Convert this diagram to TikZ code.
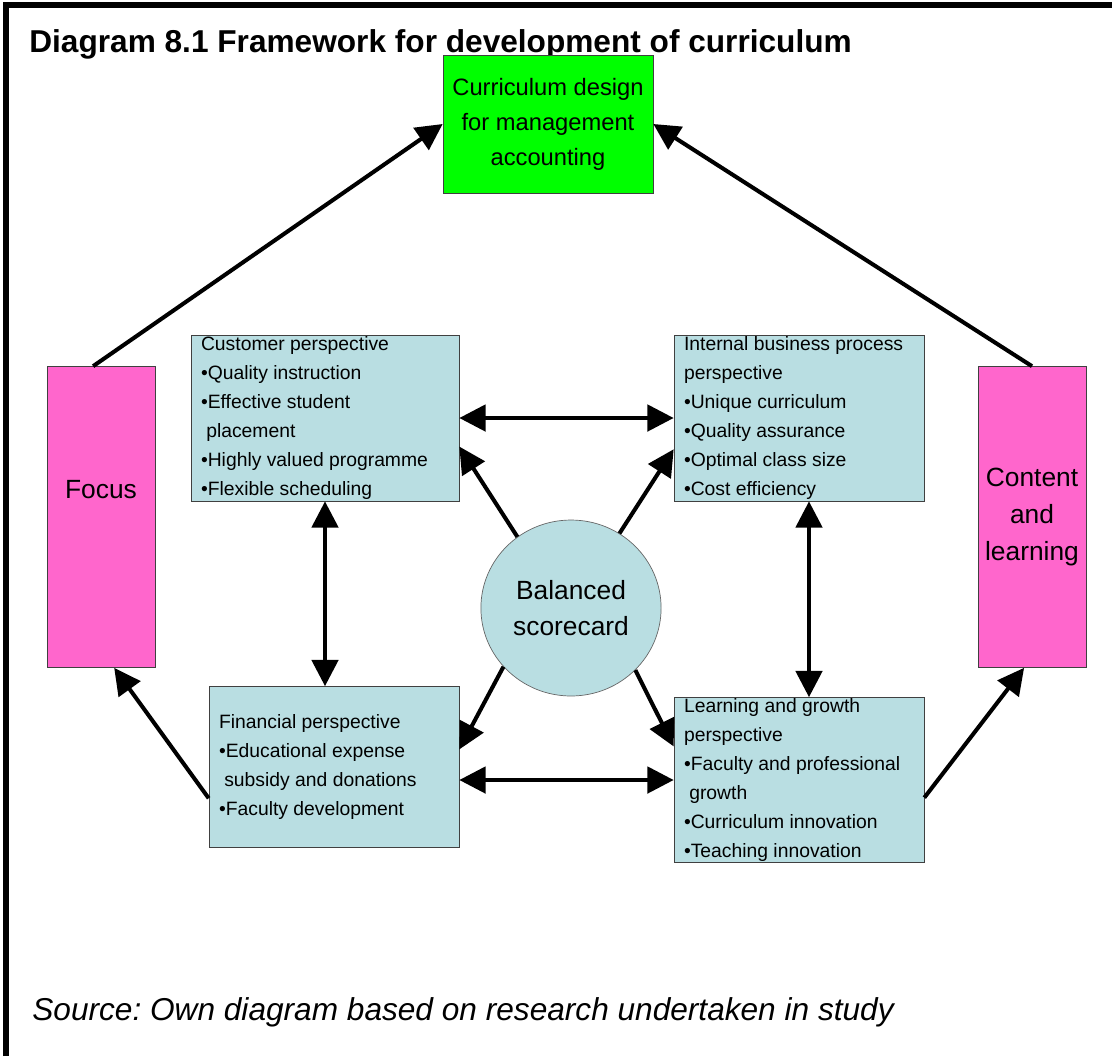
\documentclass[tikz,border=0pt]{standalone}
\usepackage{fontspec}
\setmainfont{Liberation Sans}
\usetikzlibrary{
    positioning,
    arrows.meta,
    shapes.geometric
}
\frenchspacing
\definecolor{verde}{RGB}{0,255,0}
\definecolor{rosa}{RGB}{255,102,204}
\definecolor{celeste}{RGB}{185,222,226}
\tikzset{
    >={Triangle[length=15pt,width=15pt]},
    flecha/.style={
        line width=2.3pt
    },
    principal/.style={
        draw=black!75,
        fill=verde,
        minimum width=4.2cm,
        minimum height=2.76cm,
        align=center,
        font=\fontsize{13.5}{20}\selectfont
    },
    lateral/.style={
        draw=black!75,
        fill=rosa,
        minimum width=2.16cm,
        minimum height=6.02cm,
        align=center,
        font=\fontsize{15}{21}\selectfont
    },
    caja/.style={
        draw=black!75,
        fill=celeste,
        inner xsep=0.2cm,
        inner ysep=0pt,
        text width=4.6cm,
        minimum height=3.3cm,
        align=flush left,
        font=\fontsize{11}{16.5}\selectfont
    }
}

\begin{document}
\begin{tikzpicture}[
    x=0.02cm,
    y=-0.02cm
]
    \useasboundingbox (0,0) rectangle (1112,1056);

    % Marco
    \draw[line width=3.4pt] (6,1056) -- (6,5) -- (1112,5);

    % Titulo y fuente
    \node[anchor=base west, inner sep=0pt, font=\bfseries\fontsize{18}{21}\selectfont]
        (tit) at (29,52) {Diagram 8.1 Framework for development of curriculum};
    \node[anchor=base west, inner sep=0pt, font=\itshape\fontsize{18}{21}\selectfont]
        (src) at (32,1020) {Source: Own diagram based on research undertaken in study};

    % Nodos
    \node[principal] (cur) at (548,124) {Curriculum design\\for management\\accounting};

    \node[lateral, label={[yshift=0.54cm, font=\fontsize{15}{21}\selectfont]center:Focus}]
        (foc) at (101,517) {};
    \node[lateral]   (con) at (1032,517) {Content\\and\\learning};

    \node[caja, text width=4.96cm, minimum height=3.32cm] (cus) at (325,418)
        {Customer perspective\\
         \textbullet Quality instruction\\
         \textbullet Effective student\\
         \hspace*{3pt}placement\\
         \textbullet Highly valued programme\\
         \textbullet Flexible scheduling};
    \node[caja, minimum height=3.32cm] (int) at (799,418)
        {Internal business process\\
         perspective\\
         \textbullet Unique curriculum\\
         \textbullet Quality assurance\\
         \textbullet Optimal class size\\
         \textbullet Cost efficiency};
    \node[caja, minimum height=3.22cm] (fin) at (334,767)
        {Financial perspective\\
         \textbullet Educational expense\\
         \hspace*{3pt}subsidy and donations\\
         \textbullet Faculty development};
    \node[caja] (lea) at (799,780)
        {Learning and growth\\
         perspective\\
         \textbullet Faculty and professional\\
         \hspace*{3pt}growth\\
         \textbullet Curriculum innovation\\
         \textbullet Teaching innovation};

    \node[ellipse, draw=black!60, fill=celeste, minimum width=3.44cm,
        minimum height=3.52cm, align=center, font=\fontsize{15}{20}\selectfont]
        (bsc) at (571,608) {Balanced\\scorecard};

    % Conectores
    \path[->, flecha]
        % hacia el diseno
        (foc.93)    edge (cur.west)
        (con.north) edge (cur.east)
        % hacia los laterales
        (fin.194)   edge (foc.275)
        (lea.-8)    edge (con.267)
        % desde el scorecard
        (bsc.127)   edge (cus.-12)
        (bsc.57)    edge (int.194)
        (bsc.221)   edge (fin.8)
        (bsc.-44)   edge (lea.165);

    \path[<->, flecha]
        (cus.east)  edge (int.west)
        (fin.east |- lea.west) edge (lea.west)
        (cus.south) edge (cus.south |- fin.north)
        ([xshift=0.2cm]int.south) edge ([xshift=0.2cm]int.south |- lea.north);

\end{tikzpicture}
\end{document}
